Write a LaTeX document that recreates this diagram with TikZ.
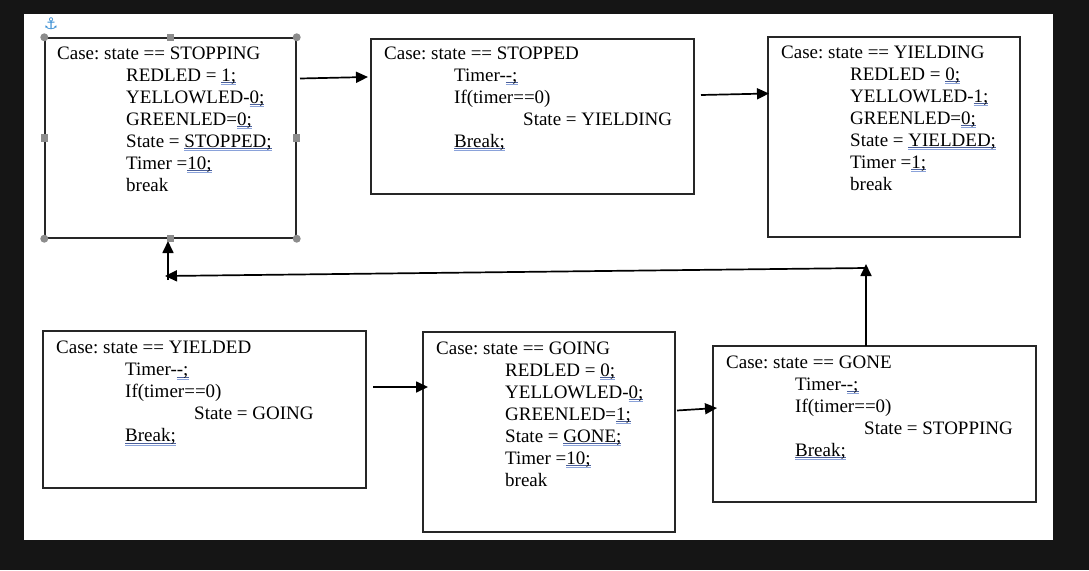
\documentclass[tikz,border=0pt]{standalone}
\usepackage{fontspec}
\setmainfont{Liberation Serif}
\newfontfamily\symfont{DejaVu Sans}
\usetikzlibrary{arrows.meta}
\frenchspacing
\definecolor{darkbg}{HTML}{151515}
\definecolor{boxline}{HTML}{262626}
\definecolor{ulA}{HTML}{4A5F9A}
\definecolor{ulB}{HTML}{8AA2DA}
\definecolor{handle}{HTML}{8C8C8C}
\definecolor{anchorblue}{HTML}{3B8FD4}
\newcommand\spellul[1]{\setbox0=\hbox{#1}\leavevmode\rlap{\color{ulA}\rule[-1.9pt]{\wd0}{0.9pt}}\rlap{\color{ulB}\rule[-3.9pt]{\wd0}{0.9pt}}\box0}
\tikzset{
  casebox/.style={draw=boxline, line width=1.4pt, rectangle, inner sep=0pt, fill=white},
  txt/.style={anchor=base west, inner sep=0pt, font=\fontsize{19}{22}\selectfont\frenchspacing, text=black},
  flow/.style={draw=black, line width=1.7pt, -{Triangle[length=12pt,width=11pt]}},
  cornerh/.style={circle, fill=handle, inner sep=0pt, minimum size=8pt},
  midh/.style={rectangle, fill=handle, inner sep=0pt, minimum size=7.5pt},
}
\begin{document}
\begin{tikzpicture}[x=1pt,y=-1pt]
\useasboundingbox (0,0) rectangle (1089,570);
\fill[darkbg] (0,0) rectangle (1089,570);
\fill[white] (24,14) rectangle (1053,540);

% boxes
\node[casebox, minimum width=251pt, minimum height=200pt] (b1) at (170.5,138) {};
\node[casebox, minimum width=323pt, minimum height=155pt] (b2) at (532.5,116.5) {};
\node[casebox, minimum width=252pt, minimum height=200pt] (b3) at (894,137) {};
\node[casebox, minimum width=323pt, minimum height=157pt] (b4) at (204.5,409.5) {};
\node[casebox, minimum width=252pt, minimum height=200pt] (b5) at (549,432) {};
\node[casebox, minimum width=323pt, minimum height=156pt] (b6) at (874.5,424) {};

% box 1 text
\node[txt] (b1a) at (57,59) {Case: state == STOPPING};
\node[txt] (b1b) at (126,81) {REDLED = \spellul{1;}};
\node[txt] (b1c) at (126,103) {YELLOWLED-\spellul{0;}};
\node[txt] (b1d) at (126,125) {GREENLED=\spellul{0;}};
\node[txt] (b1e) at (126,147) {State = \spellul{STOPPED;}};
\node[txt] (b1f) at (126,169) {Timer =\spellul{10;}};
\node[txt] (b1g) at (126,191) {break};

% box 2 text
\node[txt] (b2a) at (384,59) {Case: state == STOPPED};
\node[txt] (b2b) at (454,81) {Timer-\spellul{-;}};
\node[txt] (b2c) at (454,103) {If(timer==0)};
\node[txt] (b2d) at (523,125) {State = YIELDING};
\node[txt] (b2e) at (454,147) {\spellul{Break;}};

% box 3 text
\node[txt] (b3a) at (781,58) {Case: state == YIELDING};
\node[txt] (b3b) at (850,80) {REDLED = \spellul{0;}};
\node[txt] (b3c) at (850,102) {YELLOWLED-\spellul{1;}};
\node[txt] (b3d) at (850,124) {GREENLED=\spellul{0;}};
\node[txt] (b3e) at (850,146) {State = \spellul{YIELDED;}};
\node[txt] (b3f) at (850,168) {Timer =\spellul{1;}};
\node[txt] (b3g) at (850,190) {break};

% box 4 text
\node[txt] (b4a) at (56,353.5) {Case: state == YIELDED};
\node[txt] (b4b) at (125,375.5) {Timer-\spellul{-;}};
\node[txt] (b4c) at (125,397.5) {If(timer==0)};
\node[txt] (b4d) at (194,419.5) {State = GOING};
\node[txt] (b4e) at (125,441.5) {\spellul{Break;}};

% box 5 text
\node[txt] (b5a) at (436,354) {Case: state == GOING};
\node[txt] (b5b) at (505,376) {REDLED = \spellul{0;}};
\node[txt] (b5c) at (505,398) {YELLOWLED-\spellul{0;}};
\node[txt] (b5d) at (505,420) {GREENLED=\spellul{1;}};
\node[txt] (b5e) at (505,442) {State = \spellul{GONE;}};
\node[txt] (b5f) at (505,464) {Timer =\spellul{10;}};
\node[txt] (b5g) at (505,486) {break};

% box 6 text
\node[txt] (b6a) at (726,368) {Case: state == GONE};
\node[txt] (b6b) at (795,390) {Timer-\spellul{-;}};
\node[txt] (b6c) at (795,412) {If(timer==0)};
\node[txt] (b6d) at (864,434) {State = STOPPING};
\node[txt] (b6e) at (795,456) {\spellul{Break;}};

% connector end points
\coordinate (a1s) at (300,78.5);
\coordinate (a1e) at (368,77);
\coordinate (a2s) at (701,95);
\coordinate (a2e) at (769,93.5);
\coordinate (a3s) at (866,346);
\coordinate (a3e) at (866,264);
\coordinate (a4s) at (866,268);
\coordinate (a4e) at (165,276);
\coordinate (a5s) at (168,280);
\coordinate (a5e) at (168,241);
\coordinate (a6s) at (373,387);
\coordinate (a6e) at (428,387);
\coordinate (a7s) at (677,410.5);
\coordinate (a7e) at (717,408);

\draw[flow] (a1s) -- (a1e);
\draw[flow] (a2s) -- (a2e);
\draw[flow] (a3s) -- (a3e);
\draw[flow] (a4s) -- (a4e);
\draw[flow] (a5s) -- (a5e);
\draw[flow] (a6s) -- (a6e);
\draw[flow] (a7s) -- (a7e);

% selection handles on box 1
\node[cornerh] (h1) at (b1.north west) {};
\node[cornerh] (h2) at (b1.north east) {};
\node[cornerh] (h3) at (b1.south west) {};
\node[cornerh] (h4) at (b1.south east) {};
\node[midh] (h5) at (b1.north) {};
\node[midh] (h6) at (b1.south) {};
\node[midh] (h7) at (b1.west) {};
\node[midh] (h8) at (b1.east) {};

% anchor icon
\node[inner sep=0pt, text=anchorblue, font=\symfont\fontsize{16}{16}\selectfont] (anc) at (51,24) {⚓};
\end{tikzpicture}
\end{document}
